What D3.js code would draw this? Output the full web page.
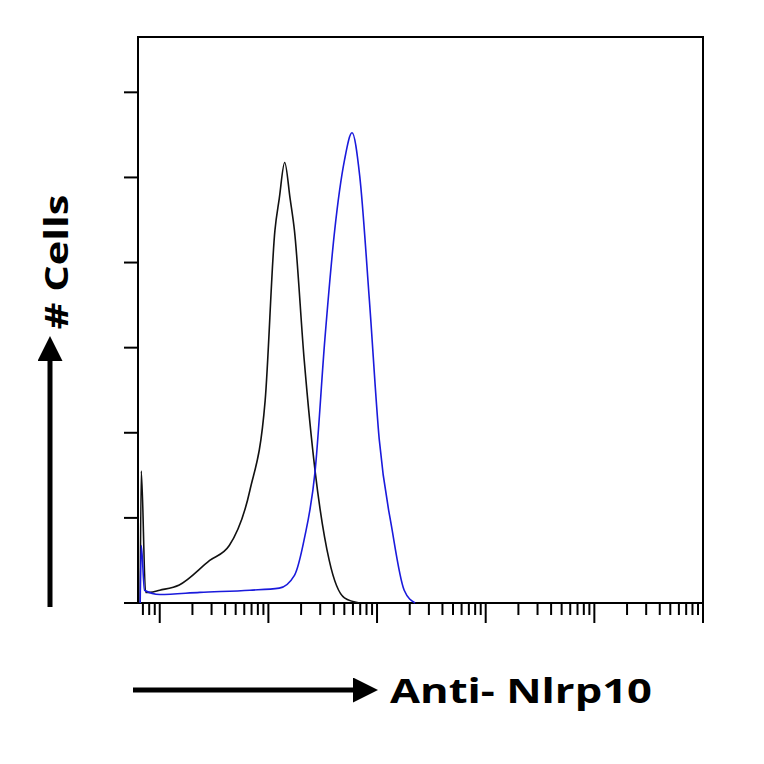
<!DOCTYPE html>
<html><head><meta charset="utf-8">
<script src="https://cdn.jsdelivr.net/npm/d3@7"></script>
<style>body{margin:0;background:#fff}</style>
</head><body>
<svg id="c" width="764" height="764"></svg>
<script>
// log10 of intensity and cell counts
var blackLog = [-0.18, -0.17, -0.13, -0.09, 0, 0.18, 0.46, 0.64, 0.83, 0.97, 1.06, 1.10, 1.15, 1.20, 1.24, 1.33, 1.43, 1.56, 1.70, 1.84];
var blackCount = [0, 62, 5, 5, 6, 8.5, 20, 27, 53, 95, 175, 190, 207, 190, 175, 114, 62, 20, 2.4, 0];
var blueLog = [-0.18, -0.17, -0.14, 0, 0.37, 0.83, 1.10, 1.24, 1.33, 1.43, 1.52, 1.61, 1.70, 1.77, 1.84, 1.93, 2.02, 2.14, 2.25, 2.35];
var blueCount = [0, 27, 6, 4, 5, 6, 7, 13, 30, 62, 124, 175, 208, 221, 201, 142, 77, 34, 6, 0];
var yTicks = [0, 40, 80, 120, 160, 200, 240];

var svg = d3.select("#c");
var x = d3.scaleLog().domain([Math.pow(10, -0.2), 1e5]).range([138, 703]);
var y = d3.scaleLinear().domain([0, 266]).range([603, 37]);

svg.append("rect").attr("x", 138).attr("y", 37).attr("width", 565).attr("height", 566)
    .attr("fill", "none").attr("stroke", "#000").attr("stroke-width", 2);

// y ticks
svg.selectAll(".yt").data(yTicks).enter().append("line")
    .attr("x1", 124).attr("x2", 138)
    .attr("y1", function (d) { return y(d); }).attr("y2", function (d) { return y(d); })
    .attr("stroke", "#000").attr("stroke-width", 2);

// x log ticks
var xt = [];
for (var e = -1; e < 5; e++) {
    for (var m = 1; m < 10; m++) {
        var v = m * Math.pow(10, e);
        if (v >= x.domain()[0] && v <= 1e5) xt.push({v: v, major: m === 1});
    }
}
xt.push({v: 1e5, major: true});
svg.selectAll(".xt").data(xt).enter().append("line")
    .attr("x1", function (d) { return x(d.v); }).attr("x2", function (d) { return x(d.v); })
    .attr("y1", 603).attr("y2", function (d) { return d.major ? 623 : 615; })
    .attr("stroke", "#000").attr("stroke-width", 2);

var line = d3.line().curve(d3.curveMonotoneX)
    .x(function (d) { return x(Math.pow(10, d[0])); }).y(function (d) { return y(d[1]); });
svg.append("path").datum(d3.zip(blackLog, blackCount)).attr("d", line)
    .attr("fill", "none").attr("stroke", "#111").attr("stroke-width", 1.6);
svg.append("path").datum(d3.zip(blueLog, blueCount)).attr("d", line)
    .attr("fill", "none").attr("stroke", "#1a1adc").attr("stroke-width", 1.6);

// arrows and labels
var defs = svg.append("defs");
defs.append("marker").attr("id", "ah").attr("viewBox", "0 0 10 10").attr("refX", 2).attr("refY", 5)
    .attr("markerWidth", 5).attr("markerHeight", 5).attr("orient", "auto")
    .append("path").attr("d", "M0,0L10,5L0,10z").attr("fill", "#000");
svg.append("line").attr("x1", 50).attr("y1", 607).attr("x2", 50).attr("y2", 356)
    .attr("stroke", "#000").attr("stroke-width", 5).attr("marker-end", "url(#ah)");
svg.append("line").attr("x1", 133).attr("y1", 690).attr("x2", 358).attr("y2", 690)
    .attr("stroke", "#000").attr("stroke-width", 5).attr("marker-end", "url(#ah)");
svg.append("text").attr("transform", "translate(68,262) rotate(-90)").attr("text-anchor", "middle")
    .attr("font-family", "Open Sans, sans-serif").attr("font-weight", "bold").attr("font-size", 33)
    .attr("textLength", 135).attr("lengthAdjust", "spacingAndGlyphs")
    .text("# Cells");
svg.append("text").attr("x", 390).attr("y", 703)
    .attr("font-family", "Open Sans, sans-serif").attr("font-weight", "bold").attr("font-size", 34)
    .attr("textLength", 262).attr("lengthAdjust", "spacingAndGlyphs")
    .text("Anti- Nlrp10");
</script>
</body></html>
